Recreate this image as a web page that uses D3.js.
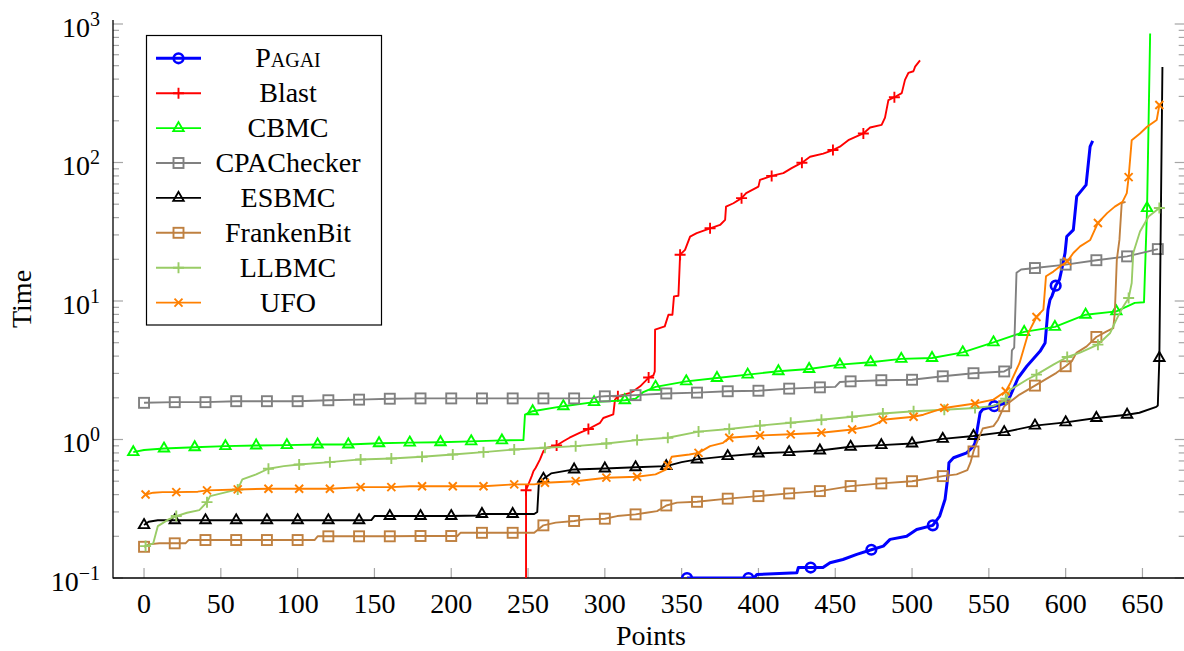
<!DOCTYPE html>
<html><head><meta charset="utf-8">
<script src="https://cdn.jsdelivr.net/npm/d3@7"></script>
<style>body{margin:0;background:#fff}svg{display:block}
text{font-family:"Liberation Serif","DejaVu Serif","Times New Roman",serif;font-size:28px;fill:#000}</style>
</head><body>
<svg id="c" width="1184" height="651"></svg>
<script>
// ---------- data (x = points, y = time; third value 1 = marked point) ----------
const xTickValues = [0,50,100,150,200,250,300,350,400,450,500,550,600,650];
const yTickValues = [0.1,1,10,100,1000];
const yTickExponents = ["−1","0","1","2","3"];
const seriesNames = ["Pagai","Blast","CBMC","CPAChecker","ESBMC","FrankenBit","LLBMC","UFO"];
const seriesColors = ["#0000ff","#ff0000","#00ff00","#808080","#000000","#bf8040","#99cc66","#ff8000"];
const seriesMarks = ["circle","plus","triangle","square","triangle","square","plus","cross"];

const pagai = [[353.5,0.1,1],[393.5,0.1,1],[397,0.1],[399,0.106],[425,0.109],[426,0.119],[434,0.119,1],[442,0.119],[446.6,0.129],[455,0.136],[464,0.148],[473.5,0.16,1],[481.3,0.17],[485.7,0.19],[496.5,0.2],[503,0.224],[513.5,0.24,1],[518,0.28],[521.5,0.37],[523.6,0.575],[524,0.68],[527,0.738],[535.6,0.80],[540,0.895],[541,0.946],[544.3,1.56],[546,1.65],[553.5,1.74,1],[561.6,1.84],[563.8,2.05],[569,2.78],[574.7,3.38],[583.3,4.33],[586.6,4.97],[588.5,8.66],[589.8,10.2],[591,10.8],[593.5,12.9,1],[596,14.3],[597.4,16.8],[599.6,22.2],[600.7,29.2],[605,32.6],[607.2,56.9],[613.3,69],[615.9,130],[617.6,143]];
const blast = [[248.7,0.03],[248.7,0.43,1],[252.4,0.544],[253.5,0.59],[255,0.625],[257.8,0.718],[260,0.823],[262,0.87],[268.6,0.905,1],[273,0.972],[277,1.03],[283.9,1.12],[289.3,1.19,1],[296.9,1.32],[299,1.43],[305.5,1.52],[306.6,1.94],[308.5,2.05,1],[316.4,2.17],[318.5,2.23],[323,2.42],[326.2,2.63],[328.5,2.8,1],[331.6,2.9],[332.5,3.1],[332.7,6.21],[339,6.56],[341.4,7.96],[344,7.96],[345,10.8],[347.9,10.9],[349,21.6,1],[352.2,23.4],[355.5,29.2],[359.8,30.9],[368.5,33.5,1],[375,35.4],[378.3,38.5],[378.9,48],[383.7,50.8],[389,55.3,1],[392,60.1],[400,67],[401,74.9],[408.6,80,1],[416.2,83.8],[421.6,91],[428.3,99.7,1],[433.6,110],[442.2,116],[448.5,123,1],[453,130],[458.5,145],[468.3,162,1],[472.7,179],[480.2,187],[482.4,211],[484.6,282],[488.5,296,1],[493.3,317],[495.4,395],[497.6,443],[500.9,456],[502,492],[505.2,546]];
const cbmc = [[-7,0.81,1],[0,0.84],[13,0.86,1],[33,0.88,1],[53,0.895,1],[73,0.905,1],[93,0.91,1],[113,0.92,1],[133,0.92,1],[153,0.94,1],[173,0.95,1],[193,0.955,1],[213,0.97,1],[233,0.985,1],[247,0.99],[248,1.51],[253,1.60,1],[273,1.74,1],[293,1.86,1],[313,1.92,1],[320,1.97],[325,2.2],[333,2.40,1],[353,2.63,1],[373,2.78,1],[393,2.94,1],[413,3.11,1],[433,3.23,1],[453,3.47,1],[473,3.61,1],[493,3.82,1],[513,3.88,1],[533,4.26,1],[553,5.03,1],[573,5.98,1],[593,6.50,1],[613,7.96,1],[633,8.41,1],[645,9.7],[651,9.8],[653,46.8,1],[655,855]];
const cpachecker = [[0,1.84,1],[20,1.86,1],[40,1.86,1],[60,1.89,1],[80,1.89,1],[100,1.89,1],[120,1.92,1],[140,1.94,1],[160,1.97,1],[180,1.98,1],[200,1.98,1],[220,1.98,1],[240,1.98,1],[260,1.98,1],[280,1.98,1],[293,1.99],[296,2.04],[300,2.05,1],[320,2.09,1],[340,2.15,1],[360,2.18,1],[380,2.23,1],[400,2.25,1],[420,2.33,1],[440,2.38,1],[450,2.40],[453,2.6],[460,2.63,1],[480,2.68,1],[500,2.70,1],[520,2.86,1],[540,3.01,1],[560,3.10,1],[564.5,3.3],[565,4.4],[566.5,4.6],[568,16.0],[571,16.9],[580,17.3,1],[600,18.3,1],[620,19.7,1],[640,21.0,1],[660,23.7,1]];
const esbmc = [[0,0.241,1],[3,0.255],[9,0.261],[20,0.261,1],[40,0.261,1],[60,0.261,1],[80,0.261,1],[100,0.261,1],[120,0.261,1],[140,0.261,1],[148,0.262],[150,0.28],[160,0.28,1],[180,0.28,1],[200,0.28,1],[218,0.283],[220,0.29,1],[240,0.29,1],[254,0.29],[256,0.30],[257,0.474],[260,0.52,1],[265,0.569],[280,0.608,1],[300,0.618,1],[320,0.63,1],[340,0.642,1],[350,0.686],[360,0.718,1],[380,0.758,1],[400,0.793,1],[420,0.81,1],[440,0.833,1],[460,0.886,1],[480,0.91,1],[500,0.936,1],[520,1.01,1],[540,1.06,1],[560,1.13,1],[580,1.26,1],[600,1.33,1],[620,1.43,1],[640,1.51,1],[648,1.56],[659,1.72],[660,1.76],[661,3.88,1],[663,490]];
const frankenbit = [[0,0.168,1],[3,0.175],[10,0.178],[20,0.178,1],[27,0.178],[29,0.188],[40,0.188,1],[60,0.188,1],[80,0.188,1],[100,0.188,1],[111,0.188],[113,0.200],[120,0.2,1],[140,0.2,1],[160,0.2,1],[180,0.201,1],[200,0.201,1],[204,0.201],[206,0.212],[220,0.212,1],[240,0.212,1],[254,0.212],[260,0.240,1],[268,0.251],[280,0.258,1],[287,0.265],[300,0.268,1],[308,0.28],[320,0.288,1],[327,0.296],[334,0.304],[340,0.334,1],[347,0.35],[360,0.355,1],[380,0.374,1],[400,0.39,1],[420,0.408,1],[440,0.424,1],[460,0.461,1],[480,0.482,1],[500,0.50,1],[520,0.544,1],[529,0.56],[536,0.6],[538,0.68],[540,0.82,1],[543,1.0],[546,1.2],[553,1.25],[556,1.39],[560,1.74,1],[570,2.11],[580,2.45,1],[594,3.03],[600,3.38,1],[604,3.67],[607,4.22],[613.7,4.7],[620,5.5,1],[626.7,6.04],[631,6.38],[632,8.2],[633.3,19.8],[635,27.6],[636.5,50.9],[639,52]];
const llbmc = [[1,0.17,1],[6,0.178],[9,0.237],[16,0.265],[21,0.28,1],[28,0.296],[36,0.309],[41,0.353,1],[43,0.39],[61,0.436,1],[64,0.515],[73,0.56],[81,0.615,1],[91,0.642],[101,0.66,1],[121,0.686,1],[141,0.718,1],[161,0.73,1],[181,0.75,1],[201,0.78,1],[221,0.81,1],[241,0.847,1],[261,0.871,1],[281,0.895,1],[301,0.936,1],[321,0.99,1],[341,1.03,1],[361,1.14,1],[381,1.19,1],[401,1.26,1],[421,1.32,1],[441,1.39,1],[461,1.46,1],[481,1.54,1],[501,1.60,1],[521,1.64,1],[541,1.69,1],[553,1.75],[558,1.85],[561,1.97,1],[564,2.29],[575,2.71],[581,2.94,1],[592,3.47],[601,3.94,1],[609,4.22],[621,4.84,1],[629,5.88],[633,7.33],[637.5,9.14],[641,10.5,1],[643,13.5],[644,22.2],[648.4,31.8],[654,40.7],[661,46.9,1]];
const ufo = [[1,0.401,1],[6,0.413],[12,0.417],[21,0.417,1],[35,0.42],[41,0.429,1],[61,0.436,1],[81,0.441,1],[101,0.441,1],[121,0.441,1],[141,0.453,1],[161,0.453,1],[173,0.46],[181,0.46,1],[201,0.46,1],[221,0.46,1],[241,0.474,1],[254,0.474],[261,0.487,1],[281,0.50,1],[301,0.53,1],[321,0.538,1],[333,0.56],[340,0.608],[341,0.65,1],[343.5,0.75],[355,0.78],[361,0.80,1],[368.5,0.895],[377,0.946],[381,1.03,1],[401,1.07,1],[421,1.09,1],[441,1.12,1],[461,1.18,1],[472.7,1.25],[477,1.3],[481,1.39,1],[501,1.46,1],[507.4,1.51],[521,1.69,1],[541,1.82,1],[553,1.94],[561,2.23,1],[564,2.56],[570,3.57],[575.7,5.88],[581,7.67,1],[585.5,8.66],[587.2,15.1],[592,16.3],[596,17.7],[601,19.3,1],[605,22.2],[609.4,24.8],[616,27.6],[621,36.6,1],[627,43.1],[632,48],[637,52],[639.8,60.1],[641,78.4,1],[643,145],[648.4,162],[653,181],[659.3,203],[661,260,1]];
const seriesData = [pagai, blast, cbmc, cpachecker, esbmc, frankenbit, llbmc, ufo];

// ---------- layout ----------
(function(){
const svg = d3.select("#c");
const PL = 113, PR = 1184.7, PB = 578, PT = 20;
const x = d3.scaleLinear().domain([-20.2, 677.5]).range([PL, PR]);
const y = d3.scaleLog().domain([0.1, 1000]).range([PB, 24]);

svg.append("defs").append("clipPath").attr("id","clip")
  .append("rect").attr("x",PL).attr("y",PT).attr("width",PR-PL).attr("height",PB-PT);

const tickCol = "#a6a6a6";
const gT = svg.append("g").attr("stroke",tickCol).attr("stroke-width",1.2);
xTickValues.forEach(v=>{
  gT.append("line").attr("x1",x(v)).attr("x2",x(v)).attr("y1",PB).attr("y2",PB-10);
});
const minor = [];
for (let e=-1;e<3;e++) for (let m=2;m<=9;m++) minor.push(m*Math.pow(10,e));
yTickValues.forEach(v=>{
  gT.append("line").attr("x1",PL).attr("x2",PL+10).attr("y1",y(v)).attr("y2",y(v));
  gT.append("line").attr("x1",PR).attr("x2",PR-10).attr("y1",y(v)).attr("y2",y(v));
});
minor.forEach(v=>{
  gT.append("line").attr("x1",PL).attr("x2",PL+6).attr("y1",y(v)).attr("y2",y(v));
  gT.append("line").attr("x1",PR).attr("x2",PR-6).attr("y1",y(v)).attr("y2",y(v));
});

svg.append("line").attr("x1",PL).attr("x2",PL).attr("y1",PT).attr("y2",PB+0.6).attr("stroke","#000").attr("stroke-width",1.3);
svg.append("line").attr("x1",PL).attr("x2",PR+1).attr("y1",PB).attr("y2",PB).attr("stroke","#000").attr("stroke-width",1.3);

xTickValues.forEach(v=>{
  svg.append("text").attr("x",x(v)).attr("y",613).attr("text-anchor","middle").text(v);
});
yTickValues.forEach((v,i)=>{
  const t = svg.append("text").attr("x",100).attr("y",y(v)+12.5).attr("text-anchor","end");
  t.append("tspan").text("10");
  t.append("tspan").style("font-size","20px").attr("dy",-11).text(yTickExponents[i]);
});

svg.append("text").attr("x",651).attr("y",645).attr("text-anchor","middle").text("Points");
svg.append("text").attr("transform","translate(31,299) rotate(-90)").attr("text-anchor","middle").text("Time");

function drawMark(g, kind, cx, cy, col, sw){
  if (kind==="circle") g.append("circle").attr("cx",cx).attr("cy",cy).attr("r",4.8).attr("fill","none").attr("stroke",col).attr("stroke-width",sw);
  else if (kind==="square") g.append("rect").attr("x",cx-5).attr("y",cy-5).attr("width",10).attr("height",10).attr("fill","none").attr("stroke",col).attr("stroke-width",sw);
  else if (kind==="triangle") { const r=6; g.append("path").attr("d",`M${cx},${cy-r}L${cx+0.866*r},${cy+0.5*r}L${cx-0.866*r},${cy+0.5*r}Z`).attr("fill","none").attr("stroke",col).attr("stroke-width",sw); }
  else if (kind==="plus") g.append("path").attr("d",`M${cx-5.5},${cy}H${cx+5.5}M${cx},${cy-5.5}V${cy+5.5}`).attr("stroke",col).attr("stroke-width",sw);
  else if (kind==="cross") { const r=4; g.append("path").attr("d",`M${cx-r},${cy-r}L${cx+r},${cy+r}M${cx-r},${cy+r}L${cx+r},${cy-r}`).attr("stroke",col).attr("stroke-width",sw); }
}

const line = d3.line().x(d=>x(d[0])).y(d=>y(d[1]));
const plot = svg.append("g").attr("clip-path","url(#clip)");
seriesData.forEach((data,i)=>{
  const col = seriesColors[i], sw = i===0 ? 3 : 1.9;
  const g = plot.append("g");
  g.append("path").datum(data).attr("d",line).attr("fill","none").attr("stroke",col)
    .attr("stroke-width",sw).attr("stroke-linejoin","round");
  data.filter(d=>d[2]===1).forEach(d=>drawMark(g, seriesMarks[i], x(d[0]), y(d[1]), col, i===0?2.6:1.9));
});

const lg = svg.append("g");
lg.append("rect").attr("x",146.5).attr("y",35.5).attr("width",235).attr("height",289.5)
  .attr("fill","#fff").attr("stroke","#000").attr("stroke-width",1.2);
seriesNames.forEach((n,i)=>{
  const cy = 58.3 + i*34.9, col = seriesColors[i], sw = i===0?3:1.9;
  lg.append("line").attr("x1",156).attr("x2",201).attr("y1",cy).attr("y2",cy).attr("stroke",col).attr("stroke-width",sw);
  drawMark(lg, seriesMarks[i], 178.5, cy, col, i===0?2.6:1.9);
  const t = lg.append("text").attr("x",288).attr("y",cy+9).attr("text-anchor","middle").text(n);
  if (i===0) t.style("font-variant","small-caps");
});
})();
</script>
</body></html>
